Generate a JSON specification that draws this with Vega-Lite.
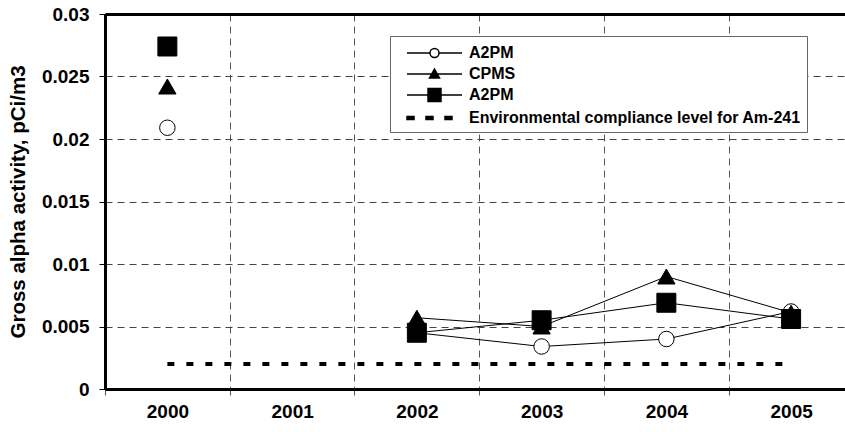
{
  "$schema": "https://vega.github.io/schema/vega-lite/v6.json",
  "width": 740,
  "height": 375,
  "autosize": {"type": "none"},
  "padding": {"left": 105, "top": 14, "right": 0, "bottom": 43},
  "background": "white",
  "config": {
    "view": {"stroke": null},
    "font": "Liberation Sans"
  },
  "resolve": {"scale": {"shape": "independent", "fill": "independent", "size": "independent"}},
  "datasets": {
    "obs": [
      {"series": "A2PM_1", "year": 2000, "value": 0.0209},
      {"series": "A2PM_1", "year": 2002, "value": 0.0045},
      {"series": "A2PM_1", "year": 2003, "value": 0.0034},
      {"series": "A2PM_1", "year": 2004, "value": 0.0040},
      {"series": "A2PM_1", "year": 2005, "value": 0.0062},
      {"series": "CPMS", "year": 2000, "value": 0.0242},
      {"series": "CPMS", "year": 2002, "value": 0.0057},
      {"series": "CPMS", "year": 2003, "value": 0.0050},
      {"series": "CPMS", "year": 2004, "value": 0.0090},
      {"series": "CPMS", "year": 2005, "value": 0.0061},
      {"series": "A2PM_2", "year": 2000, "value": 0.0274},
      {"series": "A2PM_2", "year": 2002, "value": 0.0045},
      {"series": "A2PM_2", "year": 2003, "value": 0.0055},
      {"series": "A2PM_2", "year": 2004, "value": 0.0069},
      {"series": "A2PM_2", "year": 2005, "value": 0.0056}
    ],
    "limit": [
      {"series": "Compliance", "year": 2000, "year2": 2005, "value": 0.002}
    ]
  },
  "layer": [
    {
      "data": {"name": "limit"},
      "mark": {"type": "rule", "color": "black", "strokeWidth": 4, "strokeDash": [7, 12]},
      "encoding": {
        "x": {
          "field": "year", "type": "quantitative",
          "scale": {"domain": [1999.5, 2005.432], "nice": false, "zero": false},
          "axis": {
            "values": [1999.5, 2000.5, 2001.5, 2002.5, 2003.5, 2004.5],
            "labelExpr": "format(datum.value + 0.5, 'd')",
            "labelOffset": 62.4,
            "labelFlush": false,
            "labelOverlap": false,
            "grid": true,
            "gridDash": [7, 5],
            "gridColor": "#555",
            "gridWidth": 1,
            "tickSize": 6,
            "tickColor": "#555",
            "domainColor": "black",
            "domainWidth": 3,
            "title": null,
            "labelFont": "Liberation Sans",
            "labelFontWeight": "bold",
            "labelFontSize": 19,
            "labelColor": "black",
            "labelPadding": 7
          }
        },
        "x2": {"field": "year2"},
        "y": {
          "field": "value", "type": "quantitative",
          "scale": {"domain": [0, 0.03], "nice": false, "zero": true},
          "axis": {
            "values": [0, 0.005, 0.01, 0.015, 0.02, 0.025, 0.03],
            "format": "~g",
            "grid": true,
            "gridDash": {"condition": {"test": "datum.value >= 0.0299", "value": []}, "value": [7, 5]},
            "gridColor": {"condition": {"test": "datum.value >= 0.0299", "value": "black"}, "value": "#444"},
            "gridWidth": {"condition": {"test": "datum.value >= 0.0299", "value": 3}, "value": 1},
            "tickSize": 6,
            "tickColor": "black",
            "domainColor": "black",
            "domainWidth": 3,
            "title": "Gross alpha activity, pCi/m3",
            "titleFont": "Liberation Sans",
            "titleFontWeight": "bold",
            "titleFontSize": 20.5,
            "titleColor": "black",
            "titlePadding": 13,
            "labelFont": "Liberation Sans",
            "labelFontWeight": "bold",
            "labelFontSize": 19,
            "labelColor": "black",
            "labelPadding": 10
          }
        }
      }
    },
    {
      "data": {"name": "obs"},
      "transform": [{"filter": "datum.year >= 2002"}],
      "mark": {"type": "line", "color": "black", "strokeWidth": 1},
      "encoding": {
        "x": {"field": "year", "type": "quantitative"},
        "y": {"field": "value", "type": "quantitative"},
        "detail": {"field": "series"}
      }
    },
    {
      "data": {"name": "obs"},
      "mark": {"type": "point", "filled": true, "stroke": "black", "strokeWidth": 1, "opacity": 1},
      "encoding": {
        "x": {"field": "year", "type": "quantitative"},
        "y": {"field": "value", "type": "quantitative"},
        "shape": {
          "field": "series", "type": "nominal",
          "scale": {"domain": ["A2PM_1", "CPMS", "A2PM_2"], "range": ["circle", "triangle-up", "square"]},
          "legend": null
        },
        "fill": {
          "field": "series", "type": "nominal",
          "scale": {"domain": ["A2PM_1", "CPMS", "A2PM_2"], "range": ["white", "black", "black"]},
          "legend": null
        },
        "size": {
          "field": "series", "type": "nominal",
          "scale": {"domain": ["A2PM_1", "CPMS", "A2PM_2"], "range": [240, 360, 440]},
          "legend": null
        }
      }
    },
    {
      "data": {"name": "obs"},
      "transform": [{"filter": "datum.year < 0"}],
      "mark": {"type": "point", "filled": true, "stroke": "black", "strokeWidth": 1, "opacity": 1},
      "encoding": {
        "x": {"field": "year", "type": "quantitative"},
        "y": {"field": "value", "type": "quantitative"},
        "shape": {
          "field": "series", "type": "nominal",
          "scale": {
            "domain": ["A2PM_1", "CPMS", "A2PM_2", "Compliance"],
            "range": [
              "M-2.75,0H-0.45M0.45,0H2.75M-0.45,0A0.45,0.45 0 1,0 0.45,0A0.45,0.45 0 1,0 -0.45,0Z",
              "M-2.75,0H2.75M0,-0.5L0.5,0.4L-0.5,0.4Z",
              "M-2.75,0H2.75M-0.65,-0.65H0.65V0.65H-0.65Z",
              "M-2.75,-0.15H-2.05V0.15H-2.75ZM-0.85,-0.15H-0.15V0.15H-0.85ZM1.05,-0.15H1.75V0.15H1.05Z"
            ]
          },
          "legend": {
            "orient": "none",
            "legendX": 285,
            "legendY": 22,
            "title": null,
            "direction": "vertical",
            "padding": 6,
            "strokeColor": "#666",
            "fillColor": "white",
            "symbolSize": 400,
            "symbolOffset": 27.5,
            "labelOffset": 23.5,
            "labelFont": "Liberation Sans",
            "labelFontWeight": "bold",
            "labelFontSize": 16,
            "labelColor": "black",
            "labelLimit": 600,
            "rowPadding": 2,
            "labelExpr": "datum.value == 'CPMS' ? 'CPMS' : datum.value == 'Compliance' ? 'Environmental compliance level for Am-241' : 'A2PM'"
          }
        },
        "fill": {
          "field": "series", "type": "nominal",
          "scale": {"domain": ["A2PM_1", "CPMS", "A2PM_2", "Compliance"], "range": ["white", "black", "black", "black"]}
        }
      }
    }
  ]
}
